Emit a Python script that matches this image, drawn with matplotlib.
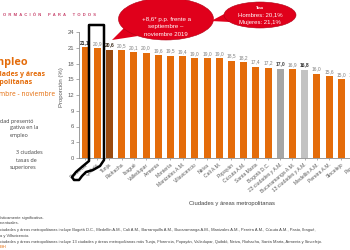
import matplotlib
matplotlib.use("Agg")
import matplotlib.pyplot as plt
from matplotlib.patches import Ellipse, Polygon, PathPatch
from matplotlib.path import Path

# ---------------- data ----------------
ciudades = ["Florencia", "Quibdó", "Tunja", "Riohacha", "Ibagué", "Valledupar",
            "Armenia", "Montería", "Manizales A.M.", "Villavicencio", "Neiva",
            "Cali A.M.", "Popayán", "Cúcuta A.M.", "Santa Marta", "Bogotá D.C.",
            "23 ciudades y A.M.", "Bucaramanga A.M.", "13 ciudades y A.M.",
            "Medellín A.M.", "Pereira A.M.", "Sincelejo", "Pasto"]
tasas = [21.1, 20.9, 20.6, 20.5, 20.1, 20.0, 19.6, 19.5, 19.4, 19.0, 19.0,
         19.0, 18.5, 18.2, 17.4, 17.2, 17.0, 16.9, 16.8, 16.0, 15.6, 15.0, 15.0]
y_ticks = [0, 3, 6, 9, 12, 15, 18, 21, 24]

ORANGE = "#E46C0A"
color_especial = {"Tunja": "#9A4A0E", "23 ciudades y A.M.": "#A6A6A6",
                  "13 ciudades y A.M.": "#C3C3C3"}
negrita = {"Florencia": "#262626", "Tunja": "#3A2A1A",
           "23 ciudades y A.M.": "#404040", "13 ciudades y A.M.": "#303030"}

plt.rcParams["font.family"] = ["Liberation Sans", "DejaVu Sans"]

W, H = 350, 250
fig = plt.figure(figsize=(3.5, 2.5), dpi=100)
fig.patch.set_facecolor("white")

# ---------------- main chart ----------------
px = 12.2  # pixel width per category
ax = fig.add_axes([79 / W, 1 - 158 / H, px * len(ciudades) / W, 126 / H])
x = list(range(len(ciudades)))
cols = [color_especial.get(c, ORANGE) for c in ciudades]
ax.bar(x, tasas, width=0.58, color=cols, zorder=2)
ax.set_xlim(-0.5, len(ciudades) - 0.5)
ax.set_ylim(0, 24)
ax.set_yticks(y_ticks)
ax.set_yticklabels([str(t) for t in y_ticks])
ax.set_xticks(x)
ax.set_xticklabels(ciudades, rotation=40, ha="right", rotation_mode="anchor")
ax.tick_params(axis="y", labelsize=4.2, labelcolor="#595959", length=2,
               width=0.5, color="#8C8C8C", pad=1.5)
ax.tick_params(axis="x", labelsize=3.6, labelcolor="#595959", length=1.5,
               width=0.5, color="#8C8C8C", pad=1.5)
for s in ["top", "right"]:
    ax.spines[s].set_visible(False)
for s in ["left", "bottom"]:
    ax.spines[s].set_color("#8C8C8C")
    ax.spines[s].set_linewidth(0.6)
ax.set_ylabel("Proporción (%)", fontsize=4.3, color="#595959")
ax.yaxis.set_label_coords(-0.053, 0.56)

for xi, c, v in zip(x, ciudades, tasas):
    lab = f"{v:.1f}".replace(".", ",")
    if c in negrita:
        ax.text(xi, v + 0.9, lab, ha="center", va="center", fontsize=3.6,
                color=negrita[c], fontweight="bold", zorder=3)
    else:
        ax.text(xi, v + 0.9, lab, ha="center", va="center", fontsize=3.5,
                color="#7F7F7F", zorder=3)

ax.set_xlabel("Ciudades y áreas metropolitanas", fontsize=4.2, color="#404040")
ax.xaxis.set_label_coords((232 - 79) / (px * len(ciudades)), -(201 - 158) / 126)

# ---------------- overlay (slide elements) ----------------
ov = fig.add_axes([0, 0, 1, 1], zorder=10)
ov.set_xlim(0, W)
ov.set_ylim(H, 0)
ov.axis("off")
ov.patch.set_alpha(0)

# header
ov.text(3, 15, "O  R  M  A  C  I  Ó  N      P  A  R  A      T  O  D  O  S",
        fontsize=3.0, color="#C8466E", fontweight="bold", va="center", ha="left")

# left title text (orange)
ov.text(28, 62, "Desempleo", fontsize=7.8, color=ORANGE, fontweight="bold",
        ha="right", va="center", family=["Open Sans", "DejaVu Sans"])
ov.text(45, 74, "Ciudades y áreas", fontsize=5.0, color=ORANGE, fontweight="bold",
        ha="right", va="center", family=["Open Sans", "DejaVu Sans"])
ov.text(33, 83, "metropolitanas", fontsize=5.0, color=ORANGE, fontweight="bold",
        ha="right", va="center", family=["Open Sans", "DejaVu Sans"])
ov.text(55, 95, "septiembre - noviembre", fontsize=4.8, color=ORANGE,
        ha="right", va="center", family=["Open Sans", "DejaVu Sans"])

# left gray text
gray_lines = [(0, 121, "dad presentó"), (10, 128, "gativa en la"),
              (10, 136, "empleo"), (16, 153, "3 ciudades"),
              (16, 161, "tasas de"), (10, 168, "superiores")]
for gx, gy, t in gray_lines:
    ov.text(gx, gy, t, fontsize=3.9, color="#404040", ha="left", va="center",
            family=["Open Sans", "DejaVu Sans"])

# footnotes
foot = [(218, "ísticamente significativa.", "#404040"),
        (223, "rcentuales.", "#404040"),
        (230, "ciudades y áreas metropolitanas incluye Bogotá D.C., Medellín A.M., Cali A.M., "
              "Barranquilla A.M., Bucaramanga A.M., Manizales A.M., Pereira A.M., Cúcuta A.M., Pasto, Ibagué,",
         "#404040"),
        (236, "a y Villavicencio.", "#404040"),
        (242, "ciudades y áreas metropolitanas incluye 13 ciudades y áreas metropolitanas más Tunja, "
              "Florencia, Popayán, Valledupar, Quibdó, Neiva, Riohacha, Santa Marta, Armenia y Sincelejo.",
         "#404040"),
        (247, "EIH", ORANGE)]
for fy, t, c in foot:
    ov.text(0, fy, t, fontsize=2.9, color=c, ha="left", va="center")

# highlight shape (black boot-like outline)
pts = [(89, 25), (104, 25), (104, 160), (100, 166), (93, 170), (86, 172),
       (82, 176), (79, 180), (74, 180), (72, 177), (76, 172), (83, 166),
       (89, 161), (89, 25)]
codes = [Path.MOVETO] + [Path.LINETO] * (len(pts) - 2) + [Path.CLOSEPOLY]
ov.add_patch(PathPatch(Path(pts, codes), fill=False, lw=1.8, ec="black",
                       joinstyle="round"))

# callout 1
RED = "#E0001B"
ov.add_patch(Polygon([(112, 40), (124, 28), (138, 36)], closed=True, fc=RED, ec="none"))
ov.add_patch(Ellipse((166, 19), 95, 42, fc=RED, ec="#B00015", lw=0.4))
for ty, t in [(19, "+8,6* p.p. frente a"), (26.5, "septiembre –"), (34, "noviembre 2019")]:
    ov.text(166, ty, t, fontsize=4.4, color="white", ha="center", va="center")

# callout 2
ov.add_patch(Polygon([(211, 21), (228, 12), (230, 22)], closed=True, fc=RED, ec="none"))
ov.add_patch(Ellipse((260, 15), 72, 26, fc=RED, ec="#B00015", lw=0.4))
ov.text(260, 8, "Tasa", fontsize=2.6, color="white", ha="center", va="center",
        fontweight="bold")
ov.text(260, 15, "Hombres: 20,1%", fontsize=4.3, color="white", ha="center", va="center")
ov.text(260, 22.5, "Mujeres: 21,1%", fontsize=4.3, color="white", ha="center", va="center")

fig.savefig("out.png", dpi=100)
